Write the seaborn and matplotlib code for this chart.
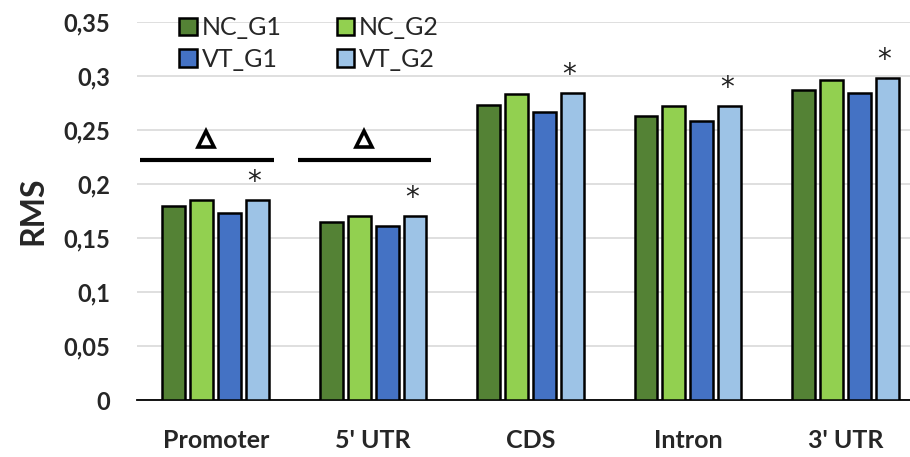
import matplotlib
matplotlib.use("Agg")
import matplotlib.pyplot as plt
import pandas as pd
import seaborn as sns

# Data
regions = ["Promoter", "5' UTR", "CDS", "Intron", "3' UTR"]
groups = ["NC_G1", "NC_G2", "VT_G1", "VT_G2"]
nc_g1 = [0.180, 0.165, 0.273, 0.263, 0.287]
nc_g2 = [0.185, 0.170, 0.283, 0.272, 0.296]
vt_g1 = [0.173, 0.161, 0.267, 0.258, 0.284]
vt_g2 = [0.185, 0.170, 0.284, 0.272, 0.298]
y_ticks = [0, 0.05, 0.1, 0.15, 0.2, 0.25, 0.3, 0.35]
y_tick_labels = ["0", "0,05", "0,1", "0,15", "0,2", "0,25", "0,3", "0,35"]
triangle_regions = ["Promoter", "5' UTR"]

palette = {"NC_G1": "#548235", "NC_G2": "#92D050", "VT_G1": "#4472C4", "VT_G2": "#9DC3E6"}

rows = []
for g, vals in zip(groups, [nc_g1, nc_g2, vt_g1, vt_g2]):
    for r, v in zip(regions, vals):
        rows.append({"Region": r, "Group": g, "RMS": v})
df = pd.DataFrame(rows)

sns.set_style("white")
plt.rcParams["font.family"] = ["Lato", "DejaVu Sans"]

fig = plt.figure(figsize=(9.1, 4.57), dpi=100)
ax = fig.add_axes([137 / 910, 57 / 457, 787 / 910, 378 / 457])

sns.barplot(data=df, x="Region", y="RMS", hue="Group", order=regions, hue_order=groups,
            palette=palette, width=0.71, gap=0.18, edgecolor="black", linewidth=1.8,
            saturation=1, ax=ax, zorder=3)

ax.set_ylim(0, 0.35)
ax.set_xlim(-0.5, len(regions) - 0.5)
ax.set_yticks(y_ticks)
ax.set_yticklabels(y_tick_labels, fontsize=17, fontweight="bold")
ax.tick_params(axis="y", length=0, pad=19)
ax.yaxis.grid(True, color="#d9d9d9", linewidth=1.2, zorder=0)
ax.set_axisbelow(True)

ax.set_xticks(range(len(regions)))
ax.set_xticklabels(regions, fontsize=18, fontweight="bold")
ax.set_xticks([i - 0.5 for i in range(len(regions) + 1)], minor=True)
ax.tick_params(axis="x", which="major", length=0, pad=21)
ax.tick_params(axis="x", which="minor", length=8, width=1.3, color="black", direction="out")

ax.set_xlabel("")
ax.set_ylabel("RMS", fontsize=23, fontweight="bold", labelpad=12)

for side in ["left", "right", "top"]:
    ax.spines[side].set_visible(False)
ax.spines["bottom"].set_color("black")
ax.spines["bottom"].set_linewidth(1.3)

# asterisks above VT_G2 bars
offset = 0.71 / 4 * 1.5
for i, v in enumerate(vt_g2):
    ax.text(i + offset - 0.02, v + 0.004, "*", ha="center", va="bottom", fontsize=20,
            family="DejaVu Sans", color="#222222")

# triangle markers with bars
for r in triangle_regions:
    i = regions.index(r)
    ax.plot([i - 0.48, i + 0.37], [0.222, 0.222], color="black", linewidth=3, solid_capstyle="butt")
    ax.plot(i - 0.06, 0.2415, marker="^", markersize=12, markerfacecolor="white",
            markeredgecolor="black", markeredgewidth=2.6)

# legend filled row by row: NC_G1, NC_G2 / VT_G1, VT_G2
handles, labels = ax.get_legend_handles_labels()
order = [0, 2, 1, 3]
leg = ax.legend([handles[k] for k in order], [labels[k] for k in order], ncol=2,
                frameon=False, loc="upper left", bbox_to_anchor=(0.025, 1.075),
                fontsize=18, handlelength=0.7, handleheight=0.7, handletextpad=0.2,
                columnspacing=2.2, labelspacing=0.35)
for h in leg.legend_handles:
    h.set_edgecolor("black")
    h.set_linewidth(1.8)

fig.savefig("out.png", dpi=100)
